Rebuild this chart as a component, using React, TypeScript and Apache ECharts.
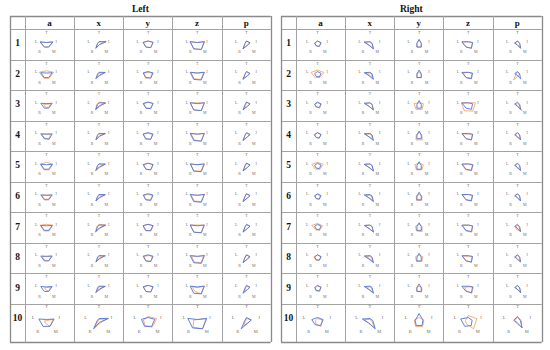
import React, { useEffect, useRef } from 'react';
import * as echarts from 'echarts';

// Indicator order as ECharts lays them out (counter-clockwise from the top):
// T (top), L (upper left), R (lower left), M (lower right), I (upper right)
const indicatorNames = ['T', 'L', 'R', 'M', 'I'];
const columnLabels = ['a', 'x', 'y', 'z', 'p'];
const rowLabels = ['1', '2', '3', '4', '5', '6', '7', '8', '9', '10'];
const tableTitles = ['Left', 'Right'];

// ---------- Left table ----------
const leftBlueA = [[2,9,5,5,9],[2,8,5,5,8],[2,8,5,5,8],[2,8,5,6,8],[2,8,5,5,8],[2,8,5,5,8],[2,8,5,5,8],[2,8,5,5,8],[2,8,5,5,8],[2,8,6,6,8]];
const leftOrangeA = [[2,9,5,5,9],[5,10,6,6,10],[1,4,3,4,6],[2,7,4,5,6],[5,9,6,6,9],[2,7,4,4,7],[4,9,6,6,9],[2,6,4,5,7],[1,3,2,5,6],[1,2,2,6,7]];
const leftBlueX = [[3,2,7,1,10],[3,2,7,1,9],[3,2,7,1,9],[3,2,7,1,9],[3,2,7,1,9],[3,2,7,1,9],[3,2,7,1,9],[3,2,7,1,9],[3,2,7,1,9],[3,2,9,1,10]];
const leftOrangeX = [[3,2,7,1,10],[2,1,5,2,8],[4,3,8,2,10],[2,2,6,1,8],[3,2,7,2,9],[2,1,6,2,8],[4,3,8,2,10],[2,1,5,2,7],[2,1,5,2,8],[2,1,8,2,9]];
const leftBlueY = [[4,7,5,6,7],[4,7,5,6,7],[4,7,5,6,7],[4,7,5,6,7],[4,7,5,6,7],[4,7,5,6,7],[4,7,5,6,7],[4,7,5,6,7],[4,7,5,6,7],[4,7,6,6,7]];
const leftOrangeY = [[4,7,5,6,7],[3,6,6,5,6],[4,6,5,5,7],[3,7,6,6,6],[4,6,5,6,7],[3,6,5,5,6],[4,7,6,5,7],[3,6,5,6,6],[4,6,5,6,7],[5,5,5,7,9]];
const leftBlueZ = [[2,10,8,9,10],[2,10,8,9,10],[2,10,8,9,10],[2,10,8,9,10],[2,10,8,9,10],[2,10,8,9,10],[2,10,8,9,10],[2,10,8,9,10],[2,10,8,9,10],[2,10,8,9,10]];
const leftOrangeZ = [[2,10,8,9,10],[2,9,7,8,9],[3,10,8,9,10],[2,9,7,9,9],[2,9,8,8,9],[2,9,7,8,10],[3,10,8,9,9],[2,8,7,8,9],[1,8,5,9,9],[2,4,7,9,9]];
const leftBlueP = [[4,2,8,2,5],[4,2,8,2,5],[4,2,8,2,5],[4,2,8,2,5],[4,2,8,2,5],[4,2,8,2,5],[4,2,8,2,5],[4,2,8,2,5],[4,2,8,2,5],[4,2,9,2,5]];
const leftOrangeP = [[4,2,8,2,5],[4,2,7,2,4],[4,1,6,2,5],[3,2,8,2,4],[4,2,7,2,5],[4,2,8,2,5],[3,2,7,2,5],[4,2,7,2,4],[3,1,6,2,4],[3,1,5,2,5]];

// ---------- Right table ----------
const rightBlueA = [[4,4,3,4,5],[4,4,3,4,5],[4,4,3,4,5],[4,4,3,4,5],[4,4,3,4,5],[4,4,3,4,5],[4,4,3,4,5],[4,4,3,4,5],[4,4,3,4,5],[4,6,4,5,6]];
const rightOrangeA = [[4,4,3,4,5],[6,9,5,5,9],[3,4,3,5,5],[4,5,3,4,5],[5,8,5,5,8],[3,4,3,4,4],[5,8,4,5,7],[4,5,4,4,5],[3,3,4,5,5],[3,2,3,6,5]];
const rightBlueX = [[3,8,2,8,3],[3,8,2,8,3],[3,8,2,8,3],[3,8,2,8,3],[3,8,2,8,3],[3,8,2,8,3],[3,8,2,8,3],[3,8,2,8,3],[3,8,2,8,3],[3,8,2,9,3]];
const rightOrangeX = [[3,8,2,8,3],[2,6,1,6,2],[3,7,2,7,3],[2,7,2,6,2],[3,8,2,8,3],[2,6,2,7,2],[3,7,2,8,3],[2,6,1,7,2],[2,5,2,6,2],[2,6,2,8,2]];
const rightBlueY = [[6,3,5,5,3],[6,3,5,5,3],[6,3,5,5,3],[6,3,5,5,3],[6,3,5,5,3],[6,3,5,5,3],[6,3,5,5,3],[6,3,5,5,3],[6,3,5,5,3],[8,4,5,5,4]];
const rightOrangeY = [[6,3,5,5,3],[3,3,5,5,3],[3,7,7,7,6],[4,4,7,7,4],[4,6,6,6,6],[3,4,6,6,4],[4,5,6,7,4],[4,5,6,6,5],[3,4,5,6,4],[4,5,6,6,5]];
const rightBlueZ = [[3,9,5,7,6],[3,9,5,7,6],[3,9,5,7,6],[3,9,5,7,6],[3,9,5,7,6],[3,9,5,7,6],[3,9,5,7,6],[3,9,5,7,6],[3,9,5,7,6],[4,8,6,5,4]];
const rightOrangeZ = [[3,9,5,7,6],[3,7,5,6,5],[3,10,9,10,10],[2,8,5,7,6],[3,9,6,7,7],[3,8,5,6,6],[3,9,6,8,6],[2,8,5,7,5],[2,5,4,8,7],[6,3,3,9,9]];
const rightBlueP = [[4,4,1,7,3],[4,4,1,7,3],[4,4,1,7,3],[4,4,1,7,3],[4,4,1,7,3],[4,4,1,7,3],[4,4,1,7,3],[4,4,1,7,3],[4,4,1,7,3],[5,4,1,8,3]];
const rightOrangeP = [[4,4,1,7,3],[3,2,9,2,3],[2,2,1,10,2],[4,3,2,6,3],[3,3,2,7,3],[4,3,1,6,3],[3,2,3,7,2],[4,3,2,6,3],[3,3,1,7,3],[4,3,2,7,4]];

const BLUE = '#4f74d9';
const ORANGE = '#f3a66e';
const GRID = '#a3a3a3';
const FONT = '"Liberation Serif", "Times New Roman", serif';

const tables = [
  {
    title: tableTitles[0],
    xs: [10, 25, 74, 123.3, 172.3, 221.7, 270.7],
    blue: [leftBlueA, leftBlueX, leftBlueY, leftBlueZ, leftBlueP],
    orange: [leftOrangeA, leftOrangeX, leftOrangeY, leftOrangeZ, leftOrangeP],
  },
  {
    title: tableTitles[1],
    xs: [281, 296, 345, 394.3, 443.3, 492.7, 541.7],
    blue: [rightBlueA, rightBlueX, rightBlueY, rightBlueZ, rightBlueP],
    orange: [rightOrangeA, rightOrangeX, rightOrangeY, rightOrangeZ, rightOrangeP],
  },
];

const TOP = 16;
const HEAD_BOTTOM = 29;
const ROW_H = 30.55;
const BOTTOM = 342;
const rowTops = rowLabels.map((_, i) => HEAD_BOTTOM + ROW_H * i);

function buildOption() {
  const radar: any[] = [];
  const series: any[] = [];
  const graphic: any[] = [];

  tables.forEach((t) => {
    const xs = t.xs;
    const left = xs[0];
    const right = xs[xs.length - 1];
    graphic.push({
      type: 'text', x: (left + right) / 2, y: 8.5,
      style: { text: t.title, font: `bold 9.5px ${FONT}`, fill: '#111', align: 'center', verticalAlign: 'middle' },
    });
    const hys = [TOP, HEAD_BOTTOM, ...rowTops.slice(1), BOTTOM];
    hys.forEach((y, i) => {
      const outer = i === 0 || i === hys.length - 1;
      graphic.push({
        type: 'line', shape: { x1: left, y1: Math.round(y) + 0.5, x2: right, y2: Math.round(y) + 0.5 },
        style: { stroke: outer ? '#8a8a8a' : GRID, lineWidth: outer ? 1.3 : 1 },
      });
    });
    xs.forEach((x, i) => {
      const outer = i === 0 || i === xs.length - 1;
      graphic.push({
        type: 'line', shape: { x1: Math.round(x) + 0.5, y1: TOP, x2: Math.round(x) + 0.5, y2: BOTTOM },
        style: { stroke: outer ? '#8a8a8a' : GRID, lineWidth: outer ? 1.3 : 1 },
      });
    });
    columnLabels.forEach((c, ci) => {
      graphic.push({
        type: 'text', x: (xs[ci + 1] + xs[ci + 2]) / 2, y: 22.5,
        style: { text: c, font: `bold 9px ${FONT}`, fill: '#111', align: 'center', verticalAlign: 'middle' },
      });
    });
    rowLabels.forEach((r, ri) => {
      const top = rowTops[ri];
      const bottom = ri === rowLabels.length - 1 ? BOTTOM : rowTops[ri + 1];
      const isLast = ri === rowLabels.length - 1;
      graphic.push({
        type: 'text', x: (xs[0] + xs[1]) / 2, y: isLast ? 318 : (top + bottom) / 2 - 1,
        style: { text: r, font: `bold 9.5px ${FONT}`, fill: '#111', align: 'center', verticalAlign: 'middle' },
      });
      columnLabels.forEach((_, ci) => {
        const cx = (xs[ci + 1] + xs[ci + 2]) / 2 + (ci === 0 ? -3 : 0.3);
        const cy = isLast ? 321.5 : top + 15;
        const radius = isLast ? 10 : 7.5;
        const idx = radar.length;
        radar.push({
          center: [cx, cy],
          radius,
          startAngle: 90,
          splitNumber: 1,
          nameGap: isLast ? 2.5 : 2,
          indicator: indicatorNames.map((n) => ({ name: n, min: 0, max: 10 })),
          axisName: { color: '#6f6f6f', fontSize: isLast ? 4.5 : 4, fontFamily: FONT },
          axisLine: { show: false },
          splitLine: { show: false },
          splitArea: { show: false },
          axisTick: { show: false },
          axisLabel: { show: false },
        });
        series.push({
          type: 'radar',
          radarIndex: idx,
          symbol: 'none',
          silent: true,
          data: [
            { value: t.orange[ci][ri], lineStyle: { color: ORANGE, width: 0.9 }, itemStyle: { color: ORANGE } },
            { value: t.blue[ci][ri], lineStyle: { color: BLUE, width: 0.9 }, itemStyle: { color: BLUE } },
          ],
        });
      });
    });
  });

  return { animation: false, backgroundColor: '#fff', radar, series, graphic };
}

export default function App() {
  const ref = useRef<HTMLDivElement>(null);
  useEffect(() => {
    if (!ref.current) return;
    const chart = echarts.init(ref.current, null, { renderer: 'svg' });
    chart.setOption(buildOption() as any);
    return () => chart.dispose();
  }, []);
  return (
    <div
      ref={ref}
      style={{ position: 'fixed', left: 0, top: 0, width: 550, height: 350, background: '#fff' }}
    />
  );
}
